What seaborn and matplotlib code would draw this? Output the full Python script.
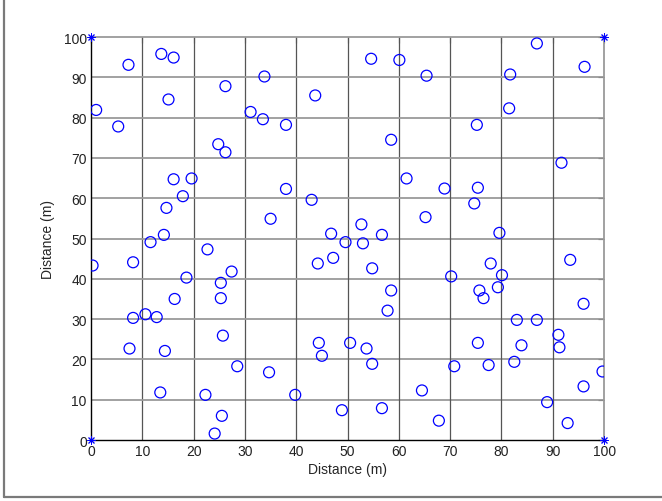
import matplotlib
matplotlib.use("Agg")
import matplotlib.pyplot as plt
from matplotlib.lines import Line2D
import numpy as np
import pandas as pd
import seaborn as sns

# Node positions in a 100 m x 100 m field
node_x = [7.3, 13.7, 16.1, 26.2, 33.8, 43.7, 1.0, 15.1, 5.3, 31.1,
          33.5, 38.0, 24.8, 26.2, 16.1, 19.6, 17.9, 38.0, 14.7, 43.0,
          35.0, 14.2, 46.8, 54.6, 60.1, 65.4, 86.9, 81.7, 96.2, 81.5,
          75.2, 58.5, 91.7, 61.5, 68.9, 75.4, 74.7, 65.2, 52.7, 56.7,
          79.6, 0.3, 8.2, 11.6, 22.7, 18.6, 16.3, 25.3, 25.3, 27.4,
          8.2, 10.6, 12.8, 7.5, 14.4, 25.7, 28.5, 34.7, 13.5, 22.3,
          39.8, 25.5, 24.1, 44.2, 47.2, 49.6, 44.4, 45.0, 48.9, 53.0,
          54.8, 70.2, 77.9, 80.1, 93.4, 58.5, 57.8, 75.7, 76.5, 79.3,
          96.0, 50.5, 53.7, 54.8, 83.0, 86.9, 91.1, 91.3, 75.4, 83.9,
          70.8, 77.5, 82.5, 99.7, 96.0, 64.5, 88.9, 56.7, 67.8, 92.9]
node_y = [93.1, 95.8, 94.9, 87.8, 90.2, 85.5, 81.9, 84.5, 77.8, 81.4,
          79.6, 78.2, 73.4, 71.4, 64.7, 64.9, 60.5, 62.3, 57.6, 59.6,
          54.9, 50.9, 51.2, 94.6, 94.3, 90.4, 98.4, 90.7, 92.6, 82.3,
          78.2, 74.5, 68.8, 64.9, 62.4, 62.6, 58.7, 55.3, 53.5, 50.9,
          51.4, 43.3, 44.1, 49.1, 47.3, 40.3, 35.0, 39.0, 35.2, 41.8,
          30.3, 31.2, 30.5, 22.7, 22.1, 25.9, 18.3, 16.8, 11.8, 11.2,
          11.2, 6.0, 1.6, 43.8, 45.2, 49.1, 24.1, 20.9, 7.4, 48.8,
          42.6, 40.6, 43.8, 40.9, 44.7, 37.1, 32.1, 37.1, 35.2, 37.9,
          33.8, 24.1, 22.7, 18.9, 29.8, 29.8, 26.1, 23.0, 24.1, 23.5,
          18.3, 18.6, 19.4, 17.0, 13.3, 12.3, 9.4, 7.9, 4.8, 4.2]

# Anchor stations at the field corners
anchor_x = [0, 0, 100, 100]
anchor_y = [0, 100, 0, 100]

ticks = list(range(0, 101, 10))
tick_labels = [str(t) for t in ticks]

sns.set_style("white")
plt.rcParams["font.family"] = ["Liberation Sans", "DejaVu Sans"]

fig = plt.figure(figsize=(6.62, 5.02), dpi=100)
ax = fig.add_axes([0.1375, 0.1215, 0.775, 0.8028])

nodes = pd.DataFrame({"x": node_x, "y": node_y})
anchors = pd.DataFrame({"x": anchor_x, "y": anchor_y})

sns.scatterplot(data=nodes, x="x", y="y", ax=ax, marker="o",
                facecolor="none", edgecolor="#0000ff", linewidth=0.9,
                s=62, zorder=3)
sns.scatterplot(data=anchors, x="x", y="y", ax=ax, marker=(8, 2, 0),
                color="#0000ff", edgecolor="#0000ff", linewidth=0.7,
                s=28, zorder=4, clip_on=False)

ax.set_xlim(0, 100)
ax.set_ylim(0, 100)
ax.set_xticks(ticks)
ax.set_yticks(ticks)
ax.set_xticklabels(tick_labels)
ax.set_yticklabels(tick_labels)

# Grid: darker vertical lines, lighter horizontal lines
for t in ticks[1:-1]:
    ax.axvline(t, color="#555555", linewidth=0.9, zorder=1)
    ax.axhline(t, color="#9a9a9a", linewidth=1.3, zorder=1)

ax.tick_params(direction="in", length=4, width=0.8, colors="black",
               labelsize=10, top=True, right=True, pad=3)
ax.tick_params(axis="both", which="both", labelcolor="#222222")

for side in ("left", "bottom"):
    ax.spines[side].set_color("black")
    ax.spines[side].set_linewidth(1.0)
for side in ("top", "right"):
    ax.spines[side].set_color("#9a9a9a")
    ax.spines[side].set_linewidth(1.3)

ax.set_xlabel("Distance (m)", fontsize=10, labelpad=3)
ax.set_ylabel("Distance (m)", fontsize=10, labelpad=6)

# Figure frame along the left and bottom edges
fig.add_artist(Line2D([0.006, 0.006], [0.008, 1.0], transform=fig.transFigure,
                      color="#7a7a7a", linewidth=1.6))
fig.add_artist(Line2D([0.006, 1.0], [0.008, 0.008], transform=fig.transFigure,
                      color="#7a7a7a", linewidth=1.6))

fig.savefig("out.png", dpi=100)
